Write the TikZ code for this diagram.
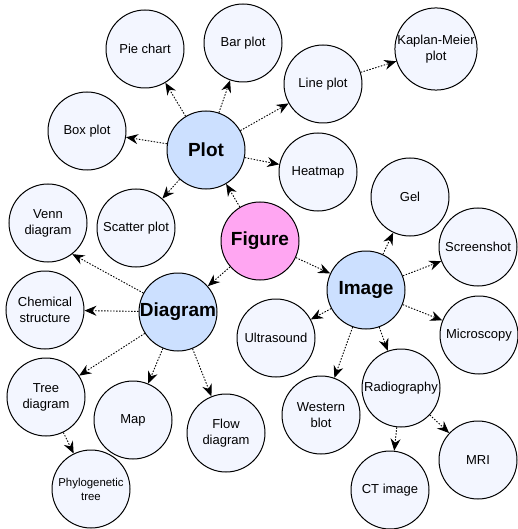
\documentclass[tikz,border=0pt]{standalone}
\usepackage{fontspec}
\setmainfont{Liberation Sans}
\usepackage{tikz}
\usetikzlibrary{arrows.meta}
\definecolor{leafcolor}{RGB}{243,246,255}
\definecolor{hubcolor}{RGB}{204,224,255}
\definecolor{rootcolor}{RGB}{255,166,242}

\tikzset{
  leaf/.style={circle,draw=black,line width=1pt,fill=leafcolor,minimum size=78pt,inner sep=0pt,
    align=center,font=\fontsize{13}{16}\selectfont},
  hub/.style={leaf,fill=hubcolor,font=\fontsize{19}{22}\selectfont\bfseries},
  root/.style={hub,fill=rootcolor},
  link/.style={line width=0.9pt,dash pattern=on 1.5pt off 1.5pt,
    -{Stealth[length=12pt,width=10pt,inset=4pt]}}
}

\begin{document}
\begin{tikzpicture}[x=1pt,y=-1pt]
\useasboundingbox (0,0) rectangle (517,529);

% centre and its three groups
\node[root] (figure)  at (260,241) {Figure};
\node[hub]  (plot)    at (206,150) {Plot};
\node[hub]  (diagram) at (178,312) {Diagram};
\node[hub]  (image)   at (366,290) {Image};

% plot
\node[leaf] (pie)     at (145,49)  {Pie chart};
\node[leaf] (bar)     at (243,43)  {Bar plot};
\node[leaf] (box)     at (87,131)  {Box plot};
\node[leaf] (scatter) at (136,228) {Scatter plot};
\node[leaf] (line)    at (323,84)  {Line plot};
\node[leaf] (kaplan)  at (436,49)  {Kaplan-Meier\\plot};
\node[leaf] (heat)    at (318,172) {Heatmap};

% diagram
\node[leaf] (venn)    at (48,223)  {Venn\\diagram};
\node[leaf] (chem)    at (45,310)  {Chemical\\structure};
\node[leaf] (tree)    at (46,397)  {Tree\\diagram};
\node[leaf] (map)     at (133,420) {Map};
\node[leaf] (flow)    at (226,433) {Flow\\diagram};
\node[leaf,font=\fontsize{11.4}{14}\selectfont] (phylo) at (91,489) {Phylogenetic\\tree};

% image
\node[leaf] (gel)     at (410,197) {Gel};
\node[leaf] (screen)  at (478,247) {Screenshot};
\node[leaf] (micro)   at (479,335) {Microscopy};
\node[leaf] (ultra)   at (276,338) {Ultrasound};
\node[leaf] (western) at (321,415) {Western\\blot};
\node[leaf] (radio)   at (401,388) {Radiography};
\node[leaf] (mri)     at (478,460) {MRI};
\node[leaf] (ct)      at (390,490) {CT image};

\foreach \a/\b in {figure/plot, figure/diagram, figure/image,
    plot/pie, plot/bar, plot/box, plot/scatter, plot/line, plot/heat, line/kaplan,
    diagram/chem, diagram/tree, diagram/map, diagram/flow, tree/phylo,
    image/gel, image/screen, image/micro, image/ultra, image/western, image/radio,
    radio/ct, radio/mri}
  \draw[link] (\a) -- (\b);
\draw[link] (diagram) -- (venn.-52);
\end{tikzpicture}
\end{document}
